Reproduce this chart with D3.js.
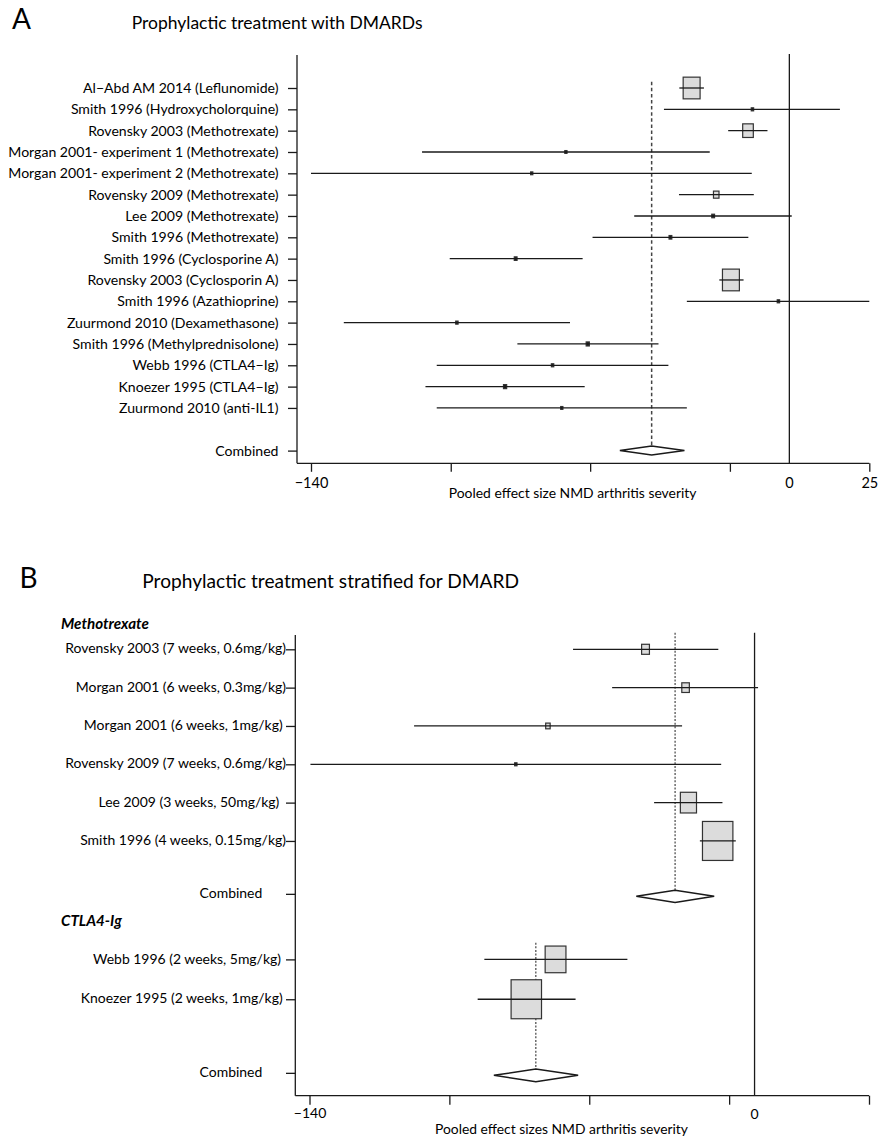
<!DOCTYPE html>
<html><head><meta charset="utf-8">
<script src="https://cdn.jsdelivr.net/npm/d3@7"></script>
<style>
body{margin:0;background:#fff}
text{font-family:Lato,"Open Sans",sans-serif;fill:#000}
</style>
</head><body>
<svg id="c" width="887" height="1138" xmlns="http://www.w3.org/2000/svg"></svg>
<script>
// ---------- Panel A data ----------
const A_title = "Prophylactic treatment with DMARDs";
const A_studies = [
  "Al\u2212Abd AM 2014 (Leflunomide)",
  "Smith 1996 (Hydroxycholorquine)",
  "Rovensky 2003 (Methotrexate)",
  "Morgan 2001- experiment 1 (Methotrexate)",
  "Morgan 2001- experiment 2 (Methotrexate)",
  "Rovensky 2009 (Methotrexate)",
  "Lee 2009 (Methotrexate)",
  "Smith 1996 (Methotrexate)",
  "Smith 1996 (Cyclosporine A)",
  "Rovensky 2003 (Cyclosporin A)",
  "Smith 1996 (Azathioprine)",
  "Zuurmond 2010 (Dexamethasone)",
  "Smith 1996 (Methylprednisolone)",
  "Webb 1996 (CTLA4\u2212Ig)",
  "Knoezer 1995 (CTLA4\u2212Ig)",
  "Zuurmond 2010 (anti-IL1)"
];
const A_est = [-28.6, -10.8, -12.1, -65.4, -75.4, -21.4, -22.3, -34.8, -80.1, -17.1, -3.2, -97.3, -59.0, -69.3, -83.2, -66.6];
const A_lo  = [-32.2, -36.7, -17.9, -107.5, -140.0, -32.3, -45.4, -57.6, -99.4, -20.5, -30.0, -130.4, -79.6, -103.2, -106.5, -103.2];
const A_hi  = [-25.0, 14.8, -6.4, -23.3, -11.0, -10.4, 0.7, -12.0, -60.5, -13.4, 23.4, -64.2, -38.3, -35.4, -59.9, -30.0];
const A_weight = [21.5, 3, 13.5, 2.5, 2, 7, 3.5, 3.5, 3.5, 21.5, 3, 3, 4, 3, 4, 2.5];
const A_combLabel = "Combined";
const A_comb = [-40.3, -49.6, -30.7]; // estimate, lower, upper
const A_ticks = [-140, -99.1, -58.3, -17.4, 23.4];
const A_tickLabels = ["\u2212140", "", "", "", "25"];
const A_refValue = 0, A_refLabel = "0";
const A_xTitle = "Pooled effect size NMD arthritis severity";

// ---------- Panel B data ----------
const B_title = "Prophylactic treatment stratified for DMARD";
const B_groups = ["Methotrexate", "CTLA4-Ig"];
const B_mtxStudies = [
  "Rovensky 2003 (7 weeks, 0.6mg/kg)",
  "Morgan 2001 (6 weeks, 0.3mg/kg)",
  "Morgan 2001 (6 weeks, 1mg/kg)",
  "Rovensky 2009 (7 weeks, 0.6mg/kg)",
  "Lee 2009 (3 weeks, 50mg/kg)",
  "Smith 1996 (4 weeks, 0.15mg/kg)"
];
const B_mtxEst = [-34.3, -21.7, -65.0, -75.1, -20.8, -11.6];
const B_mtxLo  = [-57.1, -44.8, -107.1, -139.7, -31.6, -17.2];
const B_mtxHi  = [-11.4, 1.1, -22.8, -10.5, -10.1, -5.9];
const B_mtxWeight = [11.4, 11.0, 6.5, 3.4, 23.5, 44.3];
const B_mtxComb = [-25.0, -37.2, -12.7];
const B_ctlaStudies = [
  "Webb 1996 (2 weeks, 5mg/kg)",
  "Knoezer 1995 (2 weeks, 1mg/kg)"
];
const B_ctlaEst = [-62.6, -71.8];
const B_ctlaLo  = [-85.0, -87.1];
const B_ctlaHi  = [-40.0, -56.3];
const B_ctlaWeight = [40.6, 59.4];
const B_ctlaComb = [-68.8, -82.0, -55.5];
const B_ticks = [-140, -96, -52, -8, 36];
const B_tickLabels = ["\u2212140", "", "", "", ""];
const B_refValue = 0, B_refLabel = "0";
const B_xTitle = "Pooled effect sizes NMD arthritis severity";

// ---------- drawing ----------
const svg = d3.select("#c");
const INK = "#1a1a1a", BOXFILL = "#dcdcdc";

function fitFont(sel, refNode, target) {
  const w = refNode.getComputedTextLength();
  const fs = parseFloat(refNode.getAttribute("font-size")) * target / w;
  sel.attr("font-size", fs);
}

function drawStudies(g, x, y, slots, est, lo, hi, weight, maxH) {
  const hS = d3.scaleLinear().domain([0, d3.max(weight)]).range([0, maxH]);
  const H = w => Math.max(2.8, hS(w));
  const rows = est.map((e, i) => ({e, lo: lo[i], hi: hi[i], w: weight[i], s: slots[i]}));
  g.selectAll("rect.box").data(rows).join("rect").attr("class", "box")
    .attr("x", d => x(d.e) - 0.78 * H(d.w) / 2)
    .attr("y", d => y(d.s) - H(d.w) / 2)
    .attr("width", d => 0.78 * H(d.w))
    .attr("height", d => H(d.w))
    .attr("fill", d => hS(d.w) < 5 ? INK : BOXFILL)
    .attr("stroke", "#333").attr("stroke-width", 1.2);
  g.selectAll("line.ci").data(rows).join("line").attr("class", "ci")
    .attr("x1", d => x(d.lo)).attr("x2", d => x(d.hi))
    .attr("y1", d => y(d.s)).attr("y2", d => y(d.s))
    .attr("stroke", INK).attr("stroke-width", 1.3);
}

function diamond(g, x, cy, comb, hh) {
  const [e, l, u] = comb;
  g.append("path")
    .attr("d", `M${x(l)},${cy}L${x(e)},${cy - hh}L${x(u)},${cy}L${x(e)},${cy + hh}Z`)
    .attr("fill", "#fff").attr("stroke", INK).attr("stroke-width", 1.5);
}

// ===== Panel A =====
{
  const g = svg.append("g");
  const x = d3.scaleLinear().domain([A_ticks[0], A_ticks[A_ticks.length - 1]]).range([311, 869.3]);
  const y = d3.scaleLinear().domain([0, 17]).range([88, 450.6]);
  const axisY = 463.3, yAxisX = 297, top = 55;
  const combSlot = 17;
  const slots = A_studies.map((d, i) => i);

  g.append("text").text("A").attr("x", 12).attr("y", 29.3).attr("font-size", 28);
  const t = g.append("text").text(A_title).attr("x", 131.7).attr("y", 29.3).attr("font-size", 18);
  fitFont(t, t.node(), 291);

  g.append("line").attr("x1", x(A_refValue)).attr("x2", x(A_refValue))
    .attr("y1", 54).attr("y2", axisY).attr("stroke", INK).attr("stroke-width", 1.3);
  g.append("line").attr("x1", x(A_comb[0])).attr("x2", x(A_comb[0]))
    .attr("y1", 81.7).attr("y2", y(combSlot) - 4.5)
    .attr("stroke", "#444").attr("stroke-width", 1.5).attr("stroke-dasharray", "3.5,2.6");

  drawStudies(g, x, y, slots, A_est, A_lo, A_hi, A_weight, 21.7);
  diamond(g, x, y(combSlot), A_comb, 4.5);

  g.append("line").attr("x1", yAxisX).attr("x2", yAxisX).attr("y1", top).attr("y2", axisY)
    .attr("stroke", INK).attr("stroke-width", 1.3);
  const yAx = g.append("g").attr("transform", `translate(${yAxisX},0)`)
    .call(d3.axisLeft(y).tickValues([...slots, combSlot]).tickSize(9).tickSizeOuter(0).tickFormat(() => ""));
  yAx.select(".domain").remove();
  yAx.selectAll("line").attr("stroke", INK).attr("stroke-width", 1.3);

  const labs = g.selectAll("text.lab").data([...A_studies, A_combLabel]).join("text").attr("class", "lab")
    .text(d => d).attr("x", 278.5).attr("y", (d, i) => y(i < A_studies.length ? i : combSlot))
    .attr("dy", "0.36em").attr("text-anchor", "end").attr("font-size", 14);
  fitFont(labs, labs.nodes()[0], 195.6);

  g.append("line").attr("x1", yAxisX).attr("x2", x(A_ticks[A_ticks.length - 1])).attr("y1", axisY).attr("y2", axisY)
    .attr("stroke", INK).attr("stroke-width", 1.3);
  const xAx = g.append("g").attr("transform", `translate(0,${axisY})`)
    .call(d3.axisBottom(x).tickValues(A_ticks).tickSize(8.5).tickSizeOuter(0).tickFormat((d, i) => A_tickLabels[i]));
  xAx.select(".domain").remove();
  xAx.selectAll("line").attr("stroke", INK).attr("stroke-width", 1.3);
  xAx.selectAll("text").attr("y", 25).attr("dy", 0).attr("font-size", 14.5)
    .attr("font-family", "Lato,sans-serif").attr("fill", "#000");
  g.append("text").text(A_refLabel).attr("x", x(A_refValue)).attr("y", axisY + 25)
    .attr("text-anchor", "middle").attr("font-size", 14.5);
  const xt = g.append("text").text(A_xTitle).attr("x", 572.6).attr("y", 498.3)
    .attr("text-anchor", "middle").attr("font-size", 13);
  fitFont(xt, xt.node(), 248);
}

// ===== Panel B =====
{
  const g = svg.append("g");
  const x = d3.scaleLinear().domain([B_ticks[0], B_ticks[B_ticks.length - 1]]).range([309.5, 869]);
  const y = d3.scaleLinear().domain([0, 1]).range([649.3, 687.63]);
  const axisY = 1095.7, yAxisX = 295.3, top = 635;
  const mtxSlots = [0, 1, 2, 3, 4, 5], mtxCombSlot = 6.38;
  const ctlaSlots = [8.09, 9.13], ctlaCombSlot = 11.05;
  const labelShift = [0, 0, -3.3, 0, -6.7, 0];
  const ctlaShift = [-5, -3.3];

  g.append("text").text("B").attr("x", 19.5).attr("y", 587.5).attr("font-size", 28);
  const t = g.append("text").text(B_title).attr("x", 142.3).attr("y", 588.3).attr("font-size", 19);
  fitFont(t, t.node(), 377);

  const hd = g.selectAll("text.hd").data(B_groups).join("text").attr("class", "hd")
    .text(d => d).attr("x", 61).attr("y", (d, i) => i === 0 ? 629 : 925.5)
    .attr("font-size", 14).attr("font-weight", "bold").attr("font-style", "italic");
  fitFont(hd, hd.nodes()[0], 88);

  g.append("line").attr("x1", x(B_refValue)).attr("x2", x(B_refValue))
    .attr("y1", 632.7).attr("y2", axisY).attr("stroke", INK).attr("stroke-width", 1.3);
  g.append("line").attr("x1", x(B_mtxComb[0])).attr("x2", x(B_mtxComb[0]))
    .attr("y1", 632.7).attr("y2", y(mtxCombSlot) + 2.5 - 6.2)
    .attr("stroke", "#333").attr("stroke-width", 1.1).attr("stroke-dasharray", "2,1.6");
  g.append("line").attr("x1", x(B_ctlaComb[0])).attr("x2", x(B_ctlaComb[0]))
    .attr("y1", 942.7).attr("y2", y(ctlaCombSlot) + 2.5 - 6.2)
    .attr("stroke", "#333").attr("stroke-width", 1.1).attr("stroke-dasharray", "2,1.6");

  drawStudies(g.append("g"), x, y, mtxSlots, B_mtxEst, B_mtxLo, B_mtxHi, B_mtxWeight, 39);
  drawStudies(g.append("g"), x, y, ctlaSlots, B_ctlaEst, B_ctlaLo, B_ctlaHi, B_ctlaWeight, 39);
  diamond(g, x, y(mtxCombSlot) + 2.5, B_mtxComb, 6.2);
  diamond(g, x, y(ctlaCombSlot) + 2.5, B_ctlaComb, 6.3);

  g.append("line").attr("x1", yAxisX).attr("x2", yAxisX).attr("y1", top).attr("y2", axisY)
    .attr("stroke", INK).attr("stroke-width", 1.3);
  const allSlots = [...mtxSlots, mtxCombSlot, ...ctlaSlots, ctlaCombSlot];
  const yAx = g.append("g").attr("transform", `translate(${yAxisX},0)`)
    .call(d3.axisLeft(y).tickValues(allSlots).tickSize(9.3).tickSizeOuter(0).tickFormat(() => ""));
  yAx.select(".domain").remove();
  yAx.selectAll("line").attr("stroke", INK).attr("stroke-width", 1.3);

  const labData = [
    ...B_mtxStudies.map((d, i) => ({t: d, s: mtxSlots[i], dx: labelShift[i]})),
    {t: "Combined", s: mtxCombSlot, dx: -23.7},
    ...B_ctlaStudies.map((d, i) => ({t: d, s: ctlaSlots[i], dx: ctlaShift[i]})),
    {t: "Combined", s: ctlaCombSlot, dx: -23.7}
  ];
  const labs = g.selectAll("text.lab").data(labData).join("text").attr("class", "lab")
    .text(d => d.t).attr("x", d => 286 + d.dx).attr("y", d => y(d.s))
    .attr("dy", "0.3em").attr("text-anchor", "end").attr("font-size", 14);
  fitFont(labs, labs.nodes()[0], 221);

  g.append("line").attr("x1", yAxisX).attr("x2", x(B_ticks[B_ticks.length - 1])).attr("y1", axisY).attr("y2", axisY)
    .attr("stroke", INK).attr("stroke-width", 1.3);
  const xAx = g.append("g").attr("transform", `translate(0,${axisY})`)
    .call(d3.axisBottom(x).tickValues(B_ticks).tickSize(9).tickSizeOuter(0).tickFormat((d, i) => B_tickLabels[i]));
  xAx.select(".domain").remove();
  xAx.selectAll("line").attr("stroke", INK).attr("stroke-width", 1.3);
  xAx.selectAll("text").attr("y", 22.8).attr("dy", 0).attr("font-size", 14)
    .attr("font-family", "Lato,sans-serif").attr("fill", "#000");
  g.append("text").text(B_refLabel).attr("x", x(B_refValue)).attr("y", axisY + 23.6)
    .attr("text-anchor", "middle").attr("font-size", 14);
  const xt = g.append("text").text(B_xTitle).attr("x", 561.5).attr("y", 1133.5)
    .attr("text-anchor", "middle").attr("font-size", 13);
  fitFont(xt, xt.node(), 253);
}
</script>
</body></html>
